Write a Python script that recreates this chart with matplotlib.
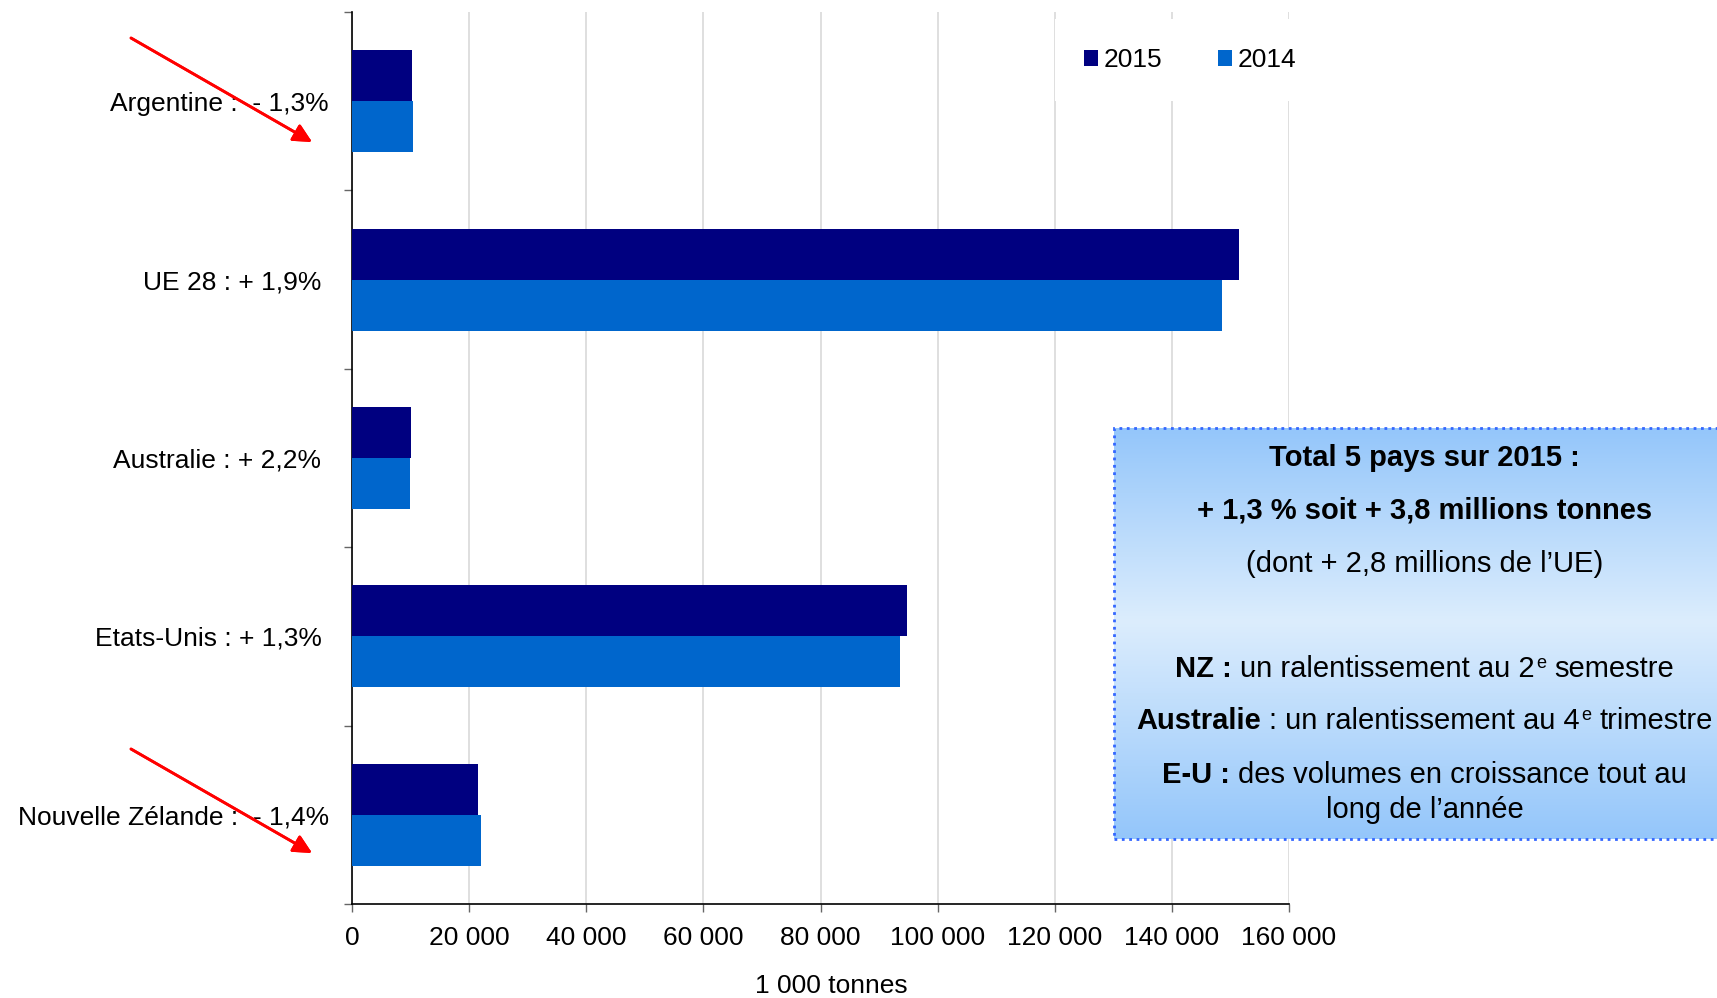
import numpy as np
import matplotlib.pyplot as plt
import matplotlib.transforms as mtransforms
from matplotlib.ticker import FuncFormatter, FixedLocator
from matplotlib.colors import LinearSegmentedColormap
from matplotlib.patches import Rectangle

plt.rcParams['font.family'] = ['Liberation Sans', 'DejaVu Sans']

# data (1 000 tonnes)
pays = ['Argentine :  - 1,3%', 'UE 28 : + 1,9%', 'Australie : + 2,2%',
        'Etats-Unis : + 1,3%', 'Nouvelle Zélande :  - 1,4%']
v2015 = [10250, 151400, 10100, 94700, 21550]
v2014 = [10380, 148600, 9900, 93600, 21950]
xticks = [0, 20000, 40000, 60000, 80000, 100000, 120000, 140000, 160000]

W, H = 1717, 998
fig = plt.figure(figsize=(W / 100, H / 100), dpi=100)
ax = fig.add_axes([352 / W, 1 - 904 / H, (1289 - 352) / W, (904 - 12) / H])

y = np.arange(len(pays))
h = 0.286
ax.barh(y - h / 2, v2015, height=h, color='#000080', label='2015', zorder=3)
ax.barh(y + h / 2, v2014, height=h, color='#0066CC', label='2014', zorder=3)

ax.set_ylim(4.5, -0.5)
ax.set_xlim(0, 160000)
ax.set_xticks(xticks)
ax.xaxis.set_major_formatter(FuncFormatter(lambda v, p: f'{int(v):,}'.replace(',', ' ')))
ax.grid(axis='x', color='#D9D9D9', lw=1.2, zorder=0)
ax.set_axisbelow(True)

ax.set_yticks(y)
ax.set_yticklabels(pays)
ax.yaxis.set_minor_locator(FixedLocator(np.arange(-0.5, 5, 1)))
ax.tick_params(axis='y', which='major', length=0, pad=22, labelsize=19)
ax.tick_params(axis='y', which='minor', length=6, color='#666666', width=1)
ax.tick_params(axis='x', length=6, color='#666666', width=1, pad=10, labelsize=19)

# the two labels with a downward arrow sit a bit closer to the axis
for i in [0, 4]:
    lab = ax.get_yticklabels()[i]
    lab.set_transform(lab.get_transform() + mtransforms.ScaledTranslation(7.5 / 100, 0, fig.dpi_scale_trans))

for s in ['top', 'right']:
    ax.spines[s].set_visible(False)
for s in ['left', 'bottom']:
    ax.spines[s].set_color('black')
    ax.spines[s].set_linewidth(1.2)

ax.set_xlabel('1 000 tonnes', fontsize=19, labelpad=17)
ax.xaxis.label.set_x(0.512)

leg = ax.legend(loc='center', bbox_to_anchor=(1190 / W, 1 - 60 / H),
                bbox_transform=fig.transFigure, ncol=2, fontsize=19,
                handlelength=0.55, handleheight=0.55, handletextpad=0.2,
                columnspacing=2.1, borderpad=1.1, frameon=True, fancybox=False)
leg.get_frame().set_facecolor('white')
leg.get_frame().set_edgecolor('none')
leg.get_frame().set_alpha(1)

# red arrows
for (x0, y0, x1, y1) in [(131, 38, 312, 142), (131, 749, 312, 853)]:
    fig.add_artist(plt.annotate('', xy=(x1 / W, 1 - y1 / H), xytext=(x0 / W, 1 - y0 / H),
                                xycoords='figure fraction', textcoords='figure fraction',
                                arrowprops=dict(arrowstyle='-|>', color='#FF0000', lw=2,
                                                mutation_scale=28, shrinkA=0, shrinkB=0)))

# comment box with gradient
bx0, by0, bx1, by1 = 1114, 428, 1717, 839
bax = fig.add_axes([bx0 / W, 1 - by1 / H, (bx1 - bx0) / W, (by1 - by0) / H])
cmap = LinearSegmentedColormap.from_list('g', [(0, '#94C6FA'), (0.47, '#DCEDFD'), (1, '#94C6FA')])
bax.imshow(np.linspace(0, 1, 256).reshape(-1, 1), aspect='auto', cmap=cmap,
           extent=[0, 1, 1, 0])
bax.set_xlim(0, 1)
bax.set_ylim(1, 0)
bax.axis('off')
fig.add_artist(Rectangle((bx0 / W, 1 - by1 / H), (bx1 - bx0 + 20) / W, (by1 - by0) / H,
                         transform=fig.transFigure, fill=False, edgecolor='#3366FF',
                         linestyle=':', lw=2))

fs = 21
renderer = fig.canvas.get_renderer()
space_px = 0.278 * fs * 100 / 72


def rich_line(cx_px, cy_px, parts):
    # parts: (text, bold, superscript, space before)
    base = 1 - (cy_px + 0.358 * fs * 100 / 72) / H
    items = []
    total = 0
    for txt, bold, sup, sp in parts:
        size = fs * 0.62 if sup else fs
        t = fig.text(0, base, txt, fontsize=size, fontweight='bold' if bold else 'normal',
                     ha='left', va='baseline')
        w = t.get_window_extent(renderer).width
        gap = space_px if sp else 1
        items.append((t, gap, w, sup))
        total += gap + w
    x = cx_px - total / 2
    for t, gap, w, sup in items:
        x += gap
        yy = base + (0.33 * fs * 100 / 72) / H if sup else base
        t.set_position((x / W, yy))
        x += w


cx = 1424
rich_line(cx, 456, [('Total 5 pays sur 2015 :', True, False, False)])
rich_line(cx, 508, [('+ 1,3 % soit + 3,8 millions tonnes', True, False, False)])
rich_line(cx, 562, [('(dont + 2,8 millions de l\u2019UE)', False, False, False)])
rich_line(cx, 667, [('NZ :', True, False, False), ('un ralentissement au 2', False, False, True),
                    ('e', False, True, False), ('semestre', False, False, True)])
rich_line(cx, 719, [('Australie', True, False, False), (': un ralentissement au 4', False, False, True),
                    ('e', False, True, False), ('trimestre', False, False, True)])
rich_line(cx, 773, [('E-U :', True, False, False),
                    ('des volumes en croissance tout au', False, False, True)])
rich_line(cx, 808, [('long de l\u2019année', False, False, False)])

fig.savefig('out.png', dpi=100)
